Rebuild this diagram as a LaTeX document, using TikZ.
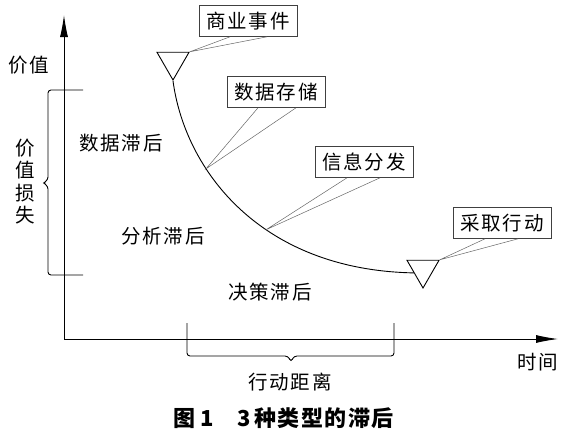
\documentclass[tikz,border=0pt]{standalone}
\usepackage{fontspec}
\usetikzlibrary{shapes.geometric,arrows.meta,calc}
\newfontfamily\cjk[LetterSpace=9]{Noto Sans CJK SC}
\newfontfamily\cjkcap[LetterSpace=7]{Noto Sans CJK SC}
\tikzset{
  txt/.style={font=\cjk\fontsize{19.5}{22}\selectfont, inner sep=0pt, text=black},
  lbox/.style={txt, draw=black!75, line width=0.6pt, minimum width=98pt, minimum height=31pt},
  tri/.style={draw, line width=0.9pt, regular polygon, regular polygon sides=3, shape border rotate=180, minimum size=37pt, inner sep=0pt},
  leader/.style={draw=black!60, line width=0.5pt},
  axis/.style={line width=0.9pt, -{Latex[length=22pt,width=8pt]}},
  bracket/.style={line width=0.9pt, rounded corners=3pt}
}
\begin{document}
\begin{tikzpicture}[x=1pt,y=-1pt]
\useasboundingbox (0,0) rectangle (570,437);
% axes
\coordinate (O) at (64,339);
\coordinate (Ytip) at (64,15);
\coordinate (Xtip) at (558,339);
\draw[axis] (O) -- (Ytip);
\draw[axis] (O) -- (Xtip);
% triangles
\node[tri] (t1) at (173,61.5) {};
\node[tri] (t2) at (423,269.5) {};
\coordinate (cend) at ($(t2.corner 3)!0.45!(t2.corner 1)$);
% curve
\draw[line width=0.9pt] (t1.corner 1) .. controls (185,170) and (260,270) .. (cend)
  coordinate[pos=0.33] (p1) coordinate[pos=0.6] (p2);
% label boxes
\node[lbox] (b1) at (248,21) {商业事件};
\node[lbox] (b2) at (276,92) {数据存储};
\node[lbox] (b3) at (364,162) {信息分发};
\node[lbox] (b4) at (502,223) {采取行动};
% leaders
\draw[leader] ([xshift=-18pt]b1.south) -- (t1.corner 2) -- ([xshift=19pt]b1.south);
\draw[leader] ([xshift=-18pt]b2.south) -- (p1) -- ([xshift=20pt]b2.south);
\draw[leader] ([xshift=-17pt]b3.south) -- (p2) -- ([xshift=16pt]b3.south);
\draw[leader] ([xshift=-17pt]b4.south) -- (t2.corner 2) -- ([xshift=16pt]b4.south);
% left brace
\draw[bracket] (83,90) -- (48,90) -- (48,180) -- (43,183) -- (48,186) -- (48,275) -- (83,275);
% bottom brace
\draw[bracket] (187,323) -- (187,356) -- (288,356) -- (291,362) -- (294,356) -- (394,356) -- (394,323);
% texts
\node[txt] (val) at (29,65) {价值};
\node[txt, align=center] (loss) at (25,181.5) {价\\[0.3pt]值\\[0.3pt]损\\[0.3pt]失};
\node[txt] (lag1) at (121,143) {数据滞后};
\node[txt] (lag2) at (163,236) {分析滞后};
\node[txt] (lag3) at (270,292) {决策滞后};
\node[txt] (time) at (538,362) {时间};
\node[txt] (dist) at (290,382) {行动距离};
\node[font=\cjkcap\bfseries\fontsize{22}{26}\selectfont, inner sep=0pt] (cap) at (283.5,418) {图\hspace{5pt}1\hspace{24pt}3\hspace{3pt}种类型的滞后};
\end{tikzpicture}
\end{document}
